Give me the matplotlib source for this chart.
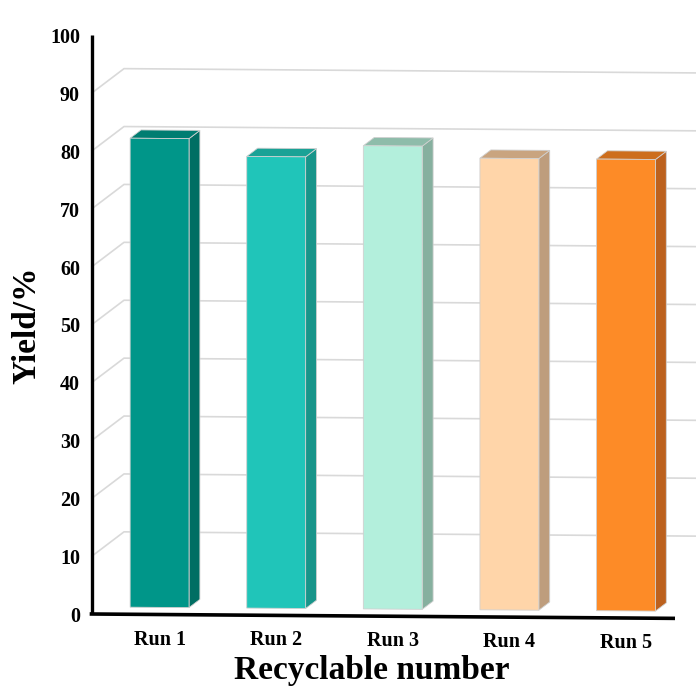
import numpy as np
import matplotlib
matplotlib.use("Agg")
import matplotlib.pyplot as plt
from matplotlib.patches import Polygon
from matplotlib.transforms import Affine2D, ScaledTranslation

# recycling test data
runs = ["Run 1", "Run 2", "Run 3", "Run 4", "Run 5"]
yields = [81, 78, 80, 78, 78]
yticks = [0, 10, 20, 30, 40, 50, 60, 70, 80, 90, 100]

front_cols = ["#009689", "#20C5B9", "#B3EFDC", "#FFD5A9", "#FD8B27"]
top_cols = ["#007D71", "#1AA296", "#8EBCAA", "#C9A47F", "#CD6E1D"]
side_cols = ["#006E63", "#18958A", "#86B09F", "#BE9D7D", "#BC611E"]

W, H = 696, 686
fig = plt.figure(figsize=(W / 100, H / 100), dpi=100)
fig.patch.set_facecolor("white")

# front plane of the chart box, in pixels
left_px, right_px, bot_px, top_px = 92, 675, 614, 35
ax = fig.add_axes([left_px / W, (H - bot_px) / H,
                   (right_px - left_px) / W, (bot_px - top_px) / H])
ax.set_xlim(-0.5, 4.5)
ax.set_ylim(0, 100)
ax.axis("off")

# full depth of the box expressed in data units
px_x = (right_px - left_px) / 5.0
px_y = (bot_px - top_px) / 100.0
DX = 32 / px_x
DY = 24.5 / px_y

# slight downward slant to the right
k = 0.0075
x0d, y0d = left_px, H - bot_px
slant = Affine2D.from_values(1, -k, 0, 1, 0, k * x0d)
tr = ax.transData + slant

# back-wall gridlines with the diagonal run on the side wall
for v in yticks[1:-1]:
    ax.plot([-0.5, -0.5 + DX, 6.0], [v, v + DY, v + DY], color="#D9D9D9",
            lw=1.2, transform=tr, clip_on=False, zorder=1)

# 3d bars
f0, f1, bw = 0.29, 0.63, 0.505
for i, v in enumerate(yields):
    xa = i - bw / 2 + f0 * DX
    xb = i + bw / 2 + f0 * DX
    ya = f0 * DY
    ex, ey = (f1 - f0) * DX, (f1 - f0) * DY
    front = [(xa, ya), (xb, ya), (xb, ya + v), (xa, ya + v)]
    top = [(xa, ya + v), (xb, ya + v), (xb + ex, ya + v + ey), (xa + ex, ya + v + ey)]
    side = [(xb, ya), (xb + ex, ya + ey), (xb + ex, ya + v + ey), (xb, ya + v)]
    for pts, c in [(side, side_cols[i]), (top, top_cols[i]), (front, front_cols[i])]:
        ax.add_patch(Polygon(pts, closed=True, facecolor=c, edgecolor="#D0D0D0",
                             lw=0.6, transform=tr, clip_on=False, zorder=3))

# axis lines
ax.plot([-0.5, -0.5], [0, 100], color="black", lw=2.4, transform=tr,
        clip_on=False, zorder=5, solid_capstyle="butt")
ax.plot([-0.52, 4.5], [0, 0], color="black", lw=2.6, transform=tr,
        clip_on=False, zorder=5, solid_capstyle="butt")

font = dict(family="Liberation Serif", weight="bold")

for v in yticks:
    off = ScaledTranslation(-12 / 100, -3 / 100, fig.dpi_scale_trans)
    ax.text(-0.5, v, str(v), ha="right", va="center", fontsize=14.5,
            transform=tr + off, **font)

for i, r in enumerate(runs):
    off = ScaledTranslation(0, -15 / 100, fig.dpi_scale_trans)
    ax.text(i + f0 * DX, 0, r, ha="center", va="top", fontsize=14.5,
            transform=tr + off, **font)

fig.text(372 / W, 7 / H, "Recyclable number", ha="center", va="baseline",
         fontsize=24, **font)
fig.text(27 / W, (H - 325) / H, "Yield/%", ha="center", va="center",
         rotation=90, fontsize=24, **font)

fig.savefig("out.png", dpi=100)
